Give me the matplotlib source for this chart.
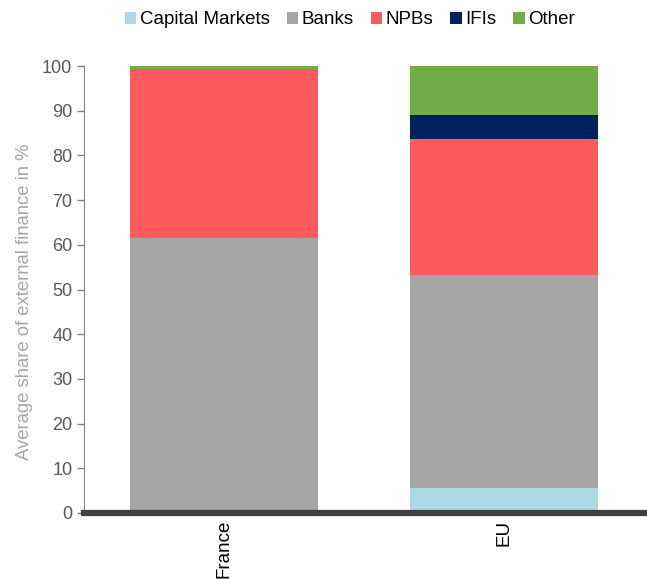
import matplotlib.pyplot as plt
import numpy as np

plt.rcParams['font.family'] = ['Liberation Sans', 'DejaVu Sans']

# data
regions = ['France', 'EU']
series = ['Capital Markets', 'Banks', 'NPBs', 'IFIs', 'Other']
capital_markets = [0.0, 5.5]
banks = [61.5, 47.7]
npbs = [37.8, 30.5]
ifis = [0.0, 5.3]
other = [0.7, 11.0]
colors = ['#ADD8E6', '#A5A5A5', '#FF5A5F', '#002060', '#70AD47']

fig = plt.figure(figsize=(6.47, 5.79), dpi=100)
ax = fig.add_axes([0.130, 0.114, 0.865, 0.772])

x = np.arange(len(regions))
bottom = np.zeros(len(regions))
for name, vals, col in zip(series, [capital_markets, banks, npbs, ifis, other], colors):
    ax.bar(x, vals, bottom=bottom, width=0.67, color=col, label=name)
    bottom += np.array(vals)

ax.set_xlim(-0.5, 1.5)
ax.set_ylim(0, 100)
ax.set_yticks(range(0, 101, 10))
ax.set_xticks(x)
ax.set_xticklabels(regions, rotation=90, fontsize=13.5, color='black')
ax.tick_params(axis='x', length=0, pad=5)
ax.tick_params(axis='y', colors='#808080', labelsize=13, length=5, width=1,
               labelcolor='#595959')
ax.set_ylabel('Average share of external finance in %', color='#A6A6A6', fontsize=13.3)
ax.yaxis.set_label_coords(-0.092, 0.472)

for s in ['top', 'right']:
    ax.spines[s].set_visible(False)
ax.spines['left'].set_color('#808080')
ax.spines['bottom'].set_color('#404040')
ax.spines['bottom'].set_linewidth(4.5)

ax.legend(loc='upper center', bbox_to_anchor=(0.475, 1.16), ncol=5, frameon=False,
          fontsize=13.5, handlelength=0.6, handleheight=0.6, handletextpad=0.2,
          columnspacing=0.9)

fig.savefig('out.png', dpi=100)
